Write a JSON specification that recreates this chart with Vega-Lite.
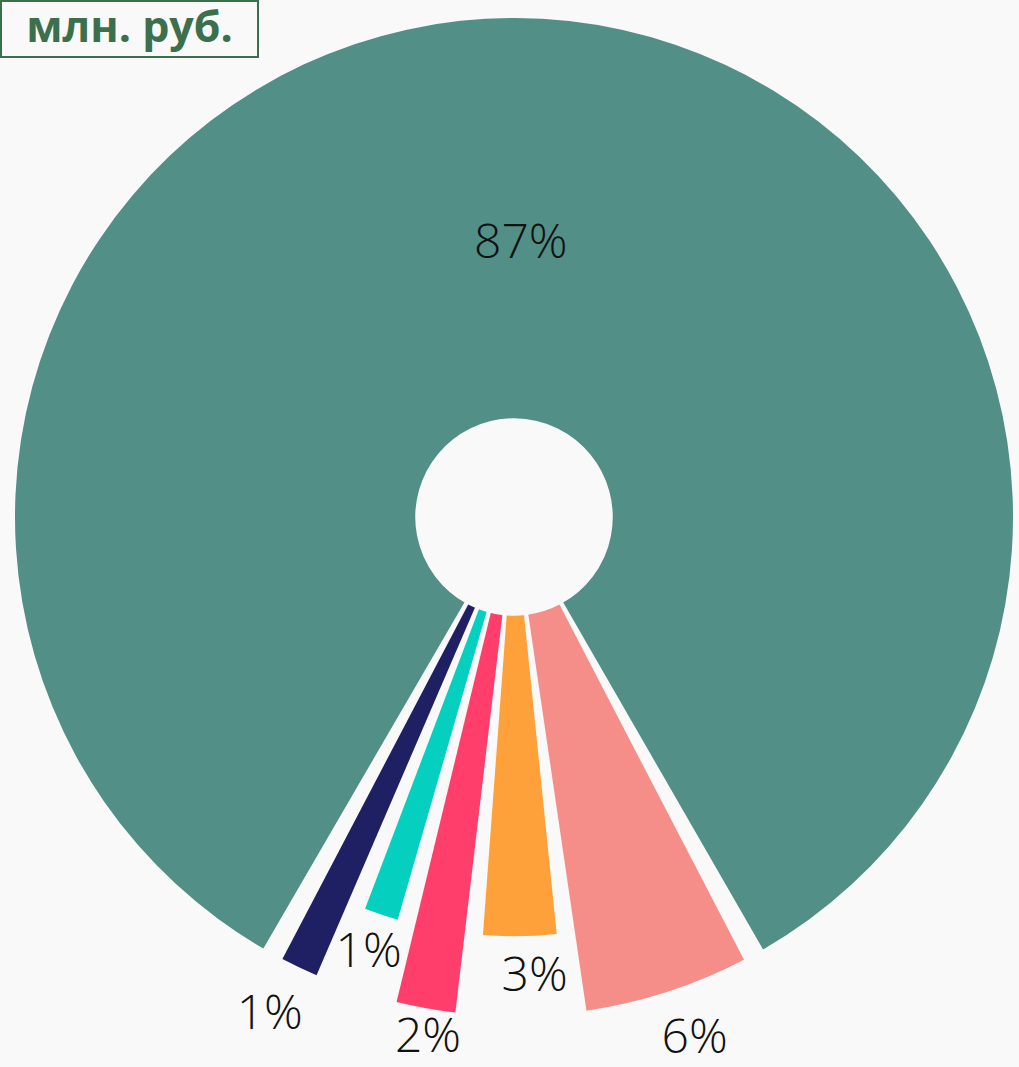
{
  "$schema": "https://vega.github.io/schema/vega-lite/v6.json",
  "background": "#F9F9F9",
  "padding": {"left": 0, "top": 0, "right": 6, "bottom": 4},
  "spacing": 0,
  "bounds": "flush",
  "config": {"view": {"stroke": null}, "text": {"font": "Open Sans", "fontWeight": 300, "fontSize": 48, "color": "#111111", "baseline": "middle", "align": "center"}},
  "hconcat": [
    {
      "width": 257,
      "height": 56,
      "view": {"stroke": "#3C6F4C", "strokeWidth": 2},
      "data": {"values": [{"unit": "млн. руб."}]},
      "mark": {"type": "text", "font": "Open Sans", "fontWeight": "bold", "fontSize": 43, "color": "#3C6F4C", "baseline": "middle", "align": "center"},
      "encoding": {"text": {"field": "unit", "type": "nominal"}}
    },
    {
      "width": 512,
      "height": 1032,
      "data": {"values": [
        {"idx": 1, "category": "Категория 2", "weight": 6.0, "depth": 100, "share": 0.0552},
        {"idx": 2, "category": "Категория 3", "weight": 3.5, "depth": 84, "share": 0.029},
        {"idx": 3, "category": "Категория 4", "weight": 2.6, "depth": 100, "share": 0.0197},
        {"idx": 4, "category": "Категория 5", "weight": 2.0, "depth": 84, "share": 0.0139},
        {"idx": 5, "category": "Категория 6", "weight": 1.9, "depth": 100, "share": 0.0122},
        {"idx": 6, "category": "Категория 1", "weight": 84.0, "depth": 100, "share": 0.870}
      ]},
      "transform": [{"stack": "weight", "groupby": [], "sort": [{"field": "idx", "order": "ascending"}], "as": ["t0", "t1"]}],
      "layer": [
        {
          "mark": {"type": "arc", "padAngle": 0.0436},
          "encoding": {
            "theta": {"field": "t0", "type": "quantitative", "stack": null, "scale": {"domain": [0, 100], "range": [2.6407, 8.9239]}},
            "theta2": {"field": "t1"},
            "radius": {"field": "depth", "type": "quantitative", "scale": {"type": "linear", "domain": [0, 100], "range": [0, 499], "zero": true}},
            "color": {"field": "category", "type": "nominal", "legend": null,
              "scale": {"domain": ["Категория 1", "Категория 2", "Категория 3", "Категория 4", "Категория 5", "Категория 6"],
                        "range": ["#528F87", "#F58E89", "#FEA13A", "#FF3E6C", "#05CFBF", "#1F1F63"]}}
          }
        },
        {
          "mark": {"type": "arc", "radius": 98, "fill": "#F9F9F9", "stroke": "#F9F9F9", "strokeWidth": 1.5},
          "encoding": {
            "theta": {"field": "t0", "type": "quantitative", "stack": null},
            "theta2": {"field": "t1"}
          }
        },
        {
          "transform": [
            {"fold": ["t0", "t1"], "as": ["edge", "pos"]},
            {"aggregate": [{"op": "mean", "field": "pos", "as": "mid"}], "groupby": ["idx", "depth", "share"]}
          ],
          "encoding": {
            "theta": {"field": "mid", "type": "quantitative", "stack": null},
            "radius": {"field": "depth", "type": "quantitative"},
            "text": {"field": "share", "type": "quantitative", "format": ".0%"}
          },
          "layer": [
            {
              "transform": [{"filter": "datum.idx == 1"}],
              "mark": {"type": "text", "radiusOffset": 53, "thetaOffset": -0.021}
            },
            {
              "transform": [{"filter": "datum.idx == 2"}],
              "mark": {"type": "text", "radiusOffset": 41, "thetaOffset": -0.031}
            },
            {
              "transform": [{"filter": "datum.idx == 3"}],
              "mark": {"type": "text", "radiusOffset": 29, "thetaOffset": -0.014}
            },
            {
              "transform": [{"filter": "datum.idx == 4"}],
              "mark": {"type": "text", "radiusOffset": 40}
            },
            {
              "transform": [{"filter": "datum.idx == 5"}],
              "mark": {"type": "text", "radiusOffset": 56, "thetaOffset": 0.011}
            },
            {
              "transform": [{"filter": "datum.idx == 6"}],
              "mark": {"type": "text", "radiusOffset": -226, "thetaOffset": 0.023}
            }
          ]
        }
      ]
    }
  ]
}
